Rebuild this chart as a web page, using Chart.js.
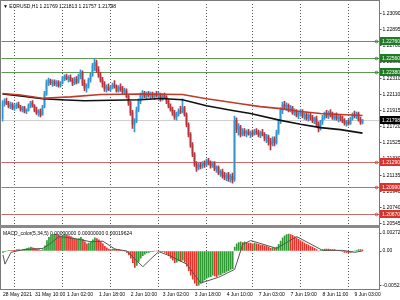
<!DOCTYPE html>
<html lang="en">
  <head>
    <meta charset="UTF-8" />
    <title>EURUSD H1</title>
    <style>
      body { margin: 0; background: #fff; }
      #wrap { position: relative; width: 400px; height: 300px; overflow: hidden; font-family: "Liberation Sans", Arial, sans-serif; }
      canvas { position: absolute; left: 0; }
      #main { top: 0; }
      #osc { top: 228px; }
      .txt { position: absolute; left: 3px; font-size: 5px; line-height: 6px; color: #000; white-space: nowrap; }
      #frame { position: absolute; left: 0; top: 0; width: 378px; height: 288px; border: 1px solid #7a7a7a; pointer-events: none; }
      #sep { position: absolute; left: 0; top: 225px; width: 380px; height: 3px; background: #8a8a8a; }
    </style>
  </head>

  <body>
    <div id="wrap">
      <canvas id="main" width="400" height="228"></canvas>
      <canvas id="osc" width="400" height="72"></canvas>
      <div id="frame"></div>
      <div id="sep"></div>
      <div class="txt" style="top: 3px">▼ EURUSD,H1 1.21769 1.21813 1.21757 1.21798</div>
      <div class="txt" style="top: 230px">MACD_color(5,34,5) 0.00000000 0.00000000 0.00019624</div>
    </div>
    <script src="https://cdn.jsdelivr.net/npm/chart.js"></script>
    <script>
      // H1 candles, 28 May 18:00 .. 9 Jun 07:00
      const opens = [1.2182,1.2201,1.2203,1.2200,1.2197,1.2199,1.2195,1.2197,1.2199,1.2196,
        1.2193,1.2195,1.2191,1.2192,1.2198,1.2201,1.2197,1.2192,1.2189,1.2191,
        1.2187,1.2196,1.2212,1.2226,1.2228,1.2225,1.2227,1.2224,1.2226,1.2222,
        1.2225,1.2231,1.2233,1.2230,1.2232,1.2228,1.2225,1.2230,1.2226,1.2234,
        1.2238,1.2225,1.2219,1.2221,1.2229,1.2235,1.2246,1.2250,1.2241,1.2235,
        1.2229,1.2224,1.2218,1.2220,1.2217,1.2220,1.2223,1.2221,1.2216,1.2220,
        1.2218,1.2214,1.2216,1.2209,1.2201,1.2189,1.2175,1.2179,1.2193,1.2203,
        1.2210,1.2213,1.2209,1.2212,1.2210,1.2211,1.2209,1.2212,1.2210,1.2211,
        1.2206,1.2210,1.2208,1.2203,1.2197,1.2193,1.2189,1.2184,1.2187,1.2191,
        1.2190,1.2195,1.2187,1.2175,1.2163,1.2150,1.2139,1.2127,1.2122,1.2126,
        1.2124,1.2128,1.2126,1.2131,1.2128,1.2125,1.2128,1.2121,1.2123,1.2116,
        1.2118,1.2113,1.2111,1.2114,1.2109,1.2112,1.2108,1.2180,1.2169,1.2172,
        1.2163,1.2167,1.2164,1.2166,1.2163,1.2165,1.2163,1.2167,1.2165,1.2162,
        1.2165,1.2163,1.2158,1.2160,1.2154,1.2151,1.2157,1.2153,1.2165,1.2178,
        1.2192,1.2199,1.2196,1.2198,1.2193,1.2195,1.2189,1.2191,1.2186,1.2188,
        1.2190,1.2185,1.2187,1.2182,1.2186,1.2183,1.2179,1.2182,1.2175,1.2170,
        1.2178,1.2183,1.2188,1.2185,1.2189,1.2186,1.2183,1.2186,1.2182,1.2184,
        1.2181,1.2179,1.2176,1.2178,1.2176,1.2182,1.2187,1.2185,1.2188,1.2181,
        1.21769];
      const highs = [1.2204,1.2206,1.2207,1.2203,1.2202,1.2201,1.2199,1.2201,1.2202,1.2198,
        1.2197,1.2197,1.2194,1.2200,1.2203,1.2204,1.2199,1.2196,1.2193,1.2194,
        1.2198,1.2215,1.2229,1.2231,1.2230,1.2229,1.2229,1.2228,1.2228,1.2227,
        1.2233,1.2235,1.2236,1.2234,1.2235,1.2231,1.2232,1.2233,1.2236,1.2241,
        1.2240,1.2229,1.2224,1.2231,1.2237,1.2249,1.2255,1.2253,1.2245,1.2238,
        1.2232,1.2227,1.2223,1.2224,1.2222,1.2225,1.2228,1.2223,1.2222,1.2224,
        1.2221,1.2219,1.2218,1.2211,1.2203,1.2192,1.2182,1.2196,1.2206,1.2213,
        1.2216,1.2215,1.2214,1.2215,1.2214,1.2214,1.2213,1.2215,1.2214,1.2213,
        1.2212,1.2213,1.2210,1.2205,1.2200,1.2196,1.2192,1.2190,1.2194,1.2197,
        1.2206,1.2197,1.2189,1.2177,1.2165,1.2153,1.2141,1.2130,1.2128,1.2129,
        1.2130,1.2131,1.2133,1.2134,1.2131,1.2130,1.2130,1.2125,1.2125,1.2120,
        1.2121,1.2117,1.2116,1.2117,1.2115,1.2116,1.2185,1.2183,1.2176,1.2174,
        1.2170,1.2170,1.2168,1.2169,1.2167,1.2168,1.2169,1.2170,1.2168,1.2167,
        1.2169,1.2165,1.2163,1.2162,1.2158,1.2160,1.2160,1.2168,1.2180,1.2195,
        1.2202,1.2203,1.2201,1.2200,1.2198,1.2197,1.2194,1.2193,1.2190,1.2193,
        1.2193,1.2189,1.2190,1.2188,1.2189,1.2186,1.2184,1.2185,1.2178,1.2180,
        1.2186,1.2190,1.2192,1.2191,1.2193,1.2190,1.2188,1.2189,1.2186,1.2187,
        1.2185,1.2182,1.2180,1.2181,1.2184,1.2189,1.2191,1.2190,1.2190,1.2184,
        1.21813];
      const lows = [1.2179,1.2197,1.2199,1.2195,1.2194,1.2193,1.2192,1.2194,1.2195,1.2191,
        1.2190,1.2189,1.2188,1.2191,1.2195,1.2196,1.2190,1.2187,1.2185,1.2184,
        1.2186,1.2195,1.2210,1.2222,1.2223,1.2221,1.2222,1.2221,1.2220,1.2220,
        1.2224,1.2228,1.2229,1.2226,1.2227,1.2222,1.2223,1.2224,1.2225,1.2230,
        1.2222,1.2216,1.2214,1.2219,1.2226,1.2233,1.2240,1.2238,1.2232,1.2226,
        1.2220,1.2215,1.2214,1.2216,1.2215,1.2218,1.2219,1.2214,1.2214,1.2215,
        1.2212,1.2211,1.2207,1.2198,1.2186,1.2170,1.2166,1.2177,1.2190,1.2200,
        1.2206,1.2207,1.2206,1.2208,1.2206,1.2207,1.2205,1.2208,1.2207,1.2203,
        1.2204,1.2207,1.2200,1.2195,1.2191,1.2186,1.2181,1.2180,1.2185,1.2188,
        1.2189,1.2185,1.2172,1.2160,1.2147,1.2136,1.2124,1.2118,1.2120,1.2121,
        1.2122,1.2123,1.2124,1.2126,1.2122,1.2123,1.2119,1.2117,1.2114,1.2112,
        1.2110,1.2108,1.2107,1.2106,1.2105,1.2104,1.2106,1.2165,1.2162,1.2160,
        1.2161,1.2161,1.2160,1.2162,1.2159,1.2161,1.2162,1.2163,1.2160,1.2159,
        1.2161,1.2155,1.2153,1.2150,1.2144,1.2149,1.2149,1.2151,1.2163,1.2176,
        1.2188,1.2194,1.2192,1.2190,1.2190,1.2187,1.2186,1.2184,1.2182,1.2185,
        1.2183,1.2181,1.2180,1.2179,1.2180,1.2177,1.2176,1.2173,1.2166,1.2168,
        1.2175,1.2181,1.2183,1.2182,1.2184,1.2181,1.2180,1.2180,1.2178,1.2179,
        1.2177,1.2174,1.2173,1.2174,1.2175,1.2180,1.2183,1.2182,1.2179,1.2175,
        1.21757];
      const closes = [1.2201,1.2203,1.2200,1.2197,1.2199,1.2195,1.2197,1.2199,1.2196,1.2193,
        1.2195,1.2191,1.2192,1.2198,1.2201,1.2197,1.2192,1.2189,1.2191,1.2187,
        1.2196,1.2212,1.2226,1.2228,1.2225,1.2227,1.2224,1.2226,1.2222,1.2225,
        1.2231,1.2233,1.2230,1.2232,1.2228,1.2225,1.2230,1.2226,1.2234,1.2238,
        1.2225,1.2219,1.2221,1.2229,1.2235,1.2246,1.2250,1.2241,1.2235,1.2229,
        1.2224,1.2218,1.2220,1.2217,1.2220,1.2223,1.2221,1.2216,1.2220,1.2218,
        1.2214,1.2216,1.2209,1.2201,1.2189,1.2175,1.2179,1.2193,1.2203,1.2210,
        1.2213,1.2209,1.2212,1.2210,1.2211,1.2209,1.2212,1.2210,1.2211,1.2206,
        1.2210,1.2208,1.2203,1.2197,1.2193,1.2189,1.2184,1.2187,1.2191,1.2190,
        1.2195,1.2187,1.2175,1.2163,1.2150,1.2139,1.2127,1.2122,1.2126,1.2124,
        1.2128,1.2126,1.2131,1.2128,1.2125,1.2128,1.2121,1.2123,1.2116,1.2118,
        1.2113,1.2111,1.2114,1.2109,1.2112,1.2108,1.2180,1.2169,1.2172,1.2163,
        1.2167,1.2164,1.2166,1.2163,1.2165,1.2163,1.2167,1.2165,1.2162,1.2165,
        1.2163,1.2158,1.2160,1.2154,1.2151,1.2157,1.2153,1.2165,1.2178,1.2192,
        1.2199,1.2196,1.2198,1.2193,1.2195,1.2189,1.2191,1.2186,1.2188,1.2190,
        1.2185,1.2187,1.2182,1.2186,1.2183,1.2179,1.2182,1.2175,1.2170,1.2178,
        1.2183,1.2188,1.2185,1.2189,1.2186,1.2183,1.2186,1.2182,1.2184,1.2181,
        1.2179,1.2176,1.2178,1.2176,1.2182,1.2187,1.2185,1.2188,1.2181,1.2177,
        1.21798];

      // moving averages, read at a few bars (line joins them)
      const redMaIdx = [0, 9, 20, 34, 49, 69, 90, 102, 109, 119, 129, 139, 149, 159, 169, 180];
      const redMaVal = [1.22125, 1.22107, 1.22066, 1.22083, 1.22113, 1.22119, 1.22113, 1.2206, 1.22036, 1.22, 1.21965, 1.21941, 1.21906, 1.21882, 1.2187, 1.21858];
      const blackMaIdx = [0, 9, 20, 29, 41, 54, 69, 79, 90, 102, 115, 124, 139, 149, 159, 169, 180];
      const blackMaVal = [1.22119, 1.22095, 1.2206, 1.22048, 1.22036, 1.22042, 1.22048, 1.22063, 1.22048, 1.21977, 1.21918, 1.21882, 1.21799, 1.21752, 1.21711, 1.21687, 1.21645];

      // MACD_color histogram and signal
      const histogram = [-0.0002,-0.0001,0.0000,0.0001,0.0001,0.0001,0.0001,0.0002,0.0002,0.0001,
        0.0002,0.0003,0.0004,0.0005,0.0006,0.0005,0.0004,0.0003,0.0002,0.0001,
        0.0002,0.0008,0.0016,0.0021,0.0024,0.0025,0.0026,0.0025,0.0024,0.0023,
        0.0024,0.0025,0.0024,0.0023,0.0022,0.0020,0.0019,0.0018,0.0019,0.0021,
        0.0018,0.0014,0.0011,0.0012,0.0014,0.0017,0.0020,0.0019,0.0017,0.0014,
        0.0011,0.0007,0.0005,0.0003,0.0002,0.0003,0.0003,0.0002,0.0002,0.0001,
        0.0000,0.0000,-0.0002,-0.0006,-0.0011,-0.0018,-0.0025,-0.0022,-0.0016,-0.0011,
        -0.0007,-0.0005,-0.0003,-0.0002,-0.0001,-0.0001,0.0000,0.0000,0.0000,-0.0001,
        -0.0001,-0.0002,-0.0004,-0.0007,-0.0011,-0.0014,-0.0018,-0.0017,-0.0015,-0.0016,
        -0.0014,-0.0017,-0.0023,-0.0030,-0.0037,-0.0043,-0.0049,-0.0053,-0.0052,-0.0049,
        -0.0047,-0.0044,-0.0042,-0.0040,-0.0039,-0.0037,-0.0038,-0.0039,-0.0037,-0.0036,
        -0.0034,-0.0033,-0.0031,-0.0030,-0.0028,-0.0027,0.0006,0.0011,0.0013,0.0014,
        0.0013,0.0014,0.0013,0.0012,0.0012,0.0011,0.0012,0.0011,0.0010,0.0009,
        0.0009,0.0008,0.0007,0.0006,0.0004,0.0005,0.0004,0.0006,0.0010,0.0015,
        0.0020,0.0023,0.0025,0.0026,0.0025,0.0024,0.0022,0.0020,0.0018,0.0016,
        0.0014,0.0012,0.0010,0.0009,0.0007,0.0006,0.0004,0.0002,0.0000,0.0001,
        0.0002,0.0003,0.0003,0.0003,0.0002,0.0002,0.0002,0.0001,0.0001,0.0000,
        -0.0001,-0.0002,-0.0002,-0.0003,-0.0002,-0.0001,0.0000,0.0001,0.0002,0.0002,
        0.00019624];
      const signalIdx = [0, 1, 4, 10, 20, 24, 28, 36, 44, 50, 56, 62, 66, 70, 74, 78, 84, 92, 99, 108, 116, 120, 124, 137, 147, 160, 170, 176, 180];
      const signalVal = [-0.0006, -0.002, -0.0002, 0.0002, 0.0004, 0.0012, 0.0022, 0.0019, 0.0014, 0.0015, 0.0003, 0.0, -0.0012, -0.0024, -0.0012, -0.0001, -0.0008, -0.002, -0.0049, -0.004, -0.0028, 0.001, 0.0016, 0.0004, 0.0022, 0.0001, 0.0001, -0.0002, 0.0];

      // levels and scale labels
      const lastPrice = 1.21798;
      const greenLevels = [1.2276, 1.2256, 1.2238];
      const redLevels = [1.2129, 1.2099, 1.2067];
      const priceTicks = [1.2309, 1.22895, 1.227, 1.22505, 1.2231, 1.2211, 1.21915, 1.2172, 1.21525, 1.2133, 1.21135, 1.2094, 1.2074, 1.20545];
      const macdTicks = [0.0027298, 0, -0.005226];
      const macdTickText = ["0.0027298", "0.00", "-0.005226"];
      const timeTickIdx = [0, 16, 32, 48, 64, 80, 96, 112, 128, 144, 160, 176];
      const timeTickText = ["28 May 2021", "31 May 10:00", "1 Jun 02:00", "1 Jun 18:00", "2 Jun 10:00", "3 Jun 02:00", "3 Jun 18:00", "4 Jun 10:00", "7 Jun 03:00", "7 Jun 19:00", "8 Jun 11:00", "9 Jun 03:00"];
      const daySeparators = [6, 30, 54, 78, 102, 125, 149, 173];
      const slotCount = 189; // bars plus chart shift

      Chart.defaults.font.family = '"Liberation Sans", Arial, sans-serif';

      const slots = Array.from({ length: slotCount }, (_, i) => String(i));
      const sparse = (idx, val) => {
        const out = new Array(slotCount).fill(null);
        idx.forEach((k, j) => (out[k] = val[j]));
        return out;
      };
      const candleColors = opens.map((o, i) => (closes[i] >= o ? "#2f96d0" : "#b8333a"));
      const histColors = histogram.map((v, i) => (i === 0 || v > histogram[i - 1] ? "#2f9a33" : "#e0342c"));
      const sepColor = (c) => (daySeparators.includes(c.index) ? "#555" : "rgba(0,0,0,0)");

      const levelsPlugin = {
        id: "levels",
        beforeDatasetsDraw(chart) {
          const { ctx, chartArea: a, scales: { y } } = chart;
          const line = (v, c) => {
            const py = Math.round(y.getPixelForValue(v)) + 0.5;
            ctx.strokeStyle = c;
            ctx.beginPath();
            ctx.moveTo(a.left, py);
            ctx.lineTo(a.right, py);
            ctx.stroke();
          };
          ctx.save();
          ctx.lineWidth = 1;
          line(lastPrice, "#cfcfcf");
          greenLevels.forEach((v) => line(v, "#5f9a55"));
          redLevels.forEach((v) => line(v, "#c96a6a"));
          ctx.restore();
        },
        afterDraw(chart) {
          const { ctx, scales: { y } } = chart;
          const box = (v, fill) => {
            const py = Math.round(y.getPixelForValue(v));
            ctx.fillStyle = fill;
            ctx.fillRect(380, py - 4, 20, 8);
            ctx.fillStyle = "#fff";
            ctx.font = '5px "Liberation Sans", Arial, sans-serif';
            ctx.textBaseline = "middle";
            ctx.textAlign = "left";
            ctx.fillText(v.toFixed(5), 382, py + 0.5);
            if (fill !== "#000") {
              ctx.strokeStyle = fill;
              ctx.lineWidth = 0.8;
              ctx.beginPath();
              ctx.arc(376.5, py + 0.5, 1.3, 0, Math.PI * 2);
              ctx.stroke();
            }
          };
          ctx.save();
          greenLevels.forEach((v) => box(v, "#1f7a24"));
          redLevels.forEach((v) => box(v, "#d5352c"));
          box(lastPrice, "#000");
          ctx.restore();
        },
      };

      new Chart(document.getElementById("main"), {
        data: {
          labels: slots,
          datasets: [
            { type: "line", data: sparse(redMaIdx, redMaVal), borderColor: "#c0392b", borderWidth: 1.6, pointRadius: 0, spanGaps: true, order: 1 },
            { type: "line", data: sparse(blackMaIdx, blackMaVal), borderColor: "#111", borderWidth: 1.6, pointRadius: 0, spanGaps: true, order: 1 },
            { type: "bar", data: opens.map((o, i) => [o, closes[i]]), backgroundColor: candleColors, barThickness: 1, grouped: false, minBarLength: 1, order: 2 },
            { type: "bar", data: lows.map((l, i) => [l, highs[i]]), backgroundColor: candleColors, barThickness: 1, grouped: false, order: 3 },
          ],
        },
        options: {
          responsive: false,
          animation: false,
          layout: { padding: { left: 1.5, top: 1, right: 0, bottom: 2 } },
          plugins: { legend: { display: false }, tooltip: { enabled: false } },
          scales: {
            x: {
              offset: true,
              grid: { offset: false, color: sepColor, drawTicks: false },
              border: { display: false, dash: [1, 2] },
              ticks: { display: false },
            },
            y: {
              position: "right",
              min: 1.205442,
              max: 1.23208,
              afterFit: (s) => { s.width = 20.5; },
              afterBuildTicks: (s) => { s.ticks = priceTicks.map((v) => ({ value: v })); },
              ticks: { callback: (v) => Number(v).toFixed(5), font: { size: 5 }, color: "#000", padding: 1, autoSkip: false },
              grid: { drawOnChartArea: false, tickLength: 2, color: "#555" },
              border: { color: "#7a7a7a" },
            },
          },
        },
        plugins: [levelsPlugin],
      });

      new Chart(document.getElementById("osc"), {
        data: {
          labels: slots,
          datasets: [
            { type: "line", data: sparse(signalIdx, signalVal), borderColor: "#555", borderWidth: 1, pointRadius: 0, spanGaps: true, order: 1 },
            { type: "bar", data: histogram, backgroundColor: histColors, barThickness: 1, order: 2 },
          ],
        },
        options: {
          responsive: false,
          animation: false,
          layout: { padding: { left: 1.5, top: 1, right: 0, bottom: 0 } },
          plugins: { legend: { display: false }, tooltip: { enabled: false } },
          scales: {
            x: {
              offset: true,
              afterFit: (s) => { s.height = 11; },
              grid: { offset: false, color: sepColor, drawTicks: false },
              border: { display: false, dash: [1, 2] },
              ticks: {
                autoSkip: false,
                maxRotation: 0,
                align: "start",
                padding: 3,
                font: { size: 5 },
                color: "#000",
                callback: (v, i) => {
                  const k = timeTickIdx.indexOf(i);
                  return k < 0 ? "" : timeTickText[k];
                },
              },
            },
            y: {
              position: "right",
              min: -0.0058,
              max: 0.0029,
              afterFit: (s) => { s.width = 20.5; },
              afterBuildTicks: (s) => { s.ticks = macdTicks.map((v) => ({ value: v })); },
              ticks: { callback: (v, i) => macdTickText[i], font: { size: 5 }, color: "#000", padding: 1, autoSkip: false },
              grid: { drawOnChartArea: false, tickLength: 2, color: "#555" },
              border: { color: "#7a7a7a" },
            },
          },
        },
      });
    </script>
  </body>
</html>
